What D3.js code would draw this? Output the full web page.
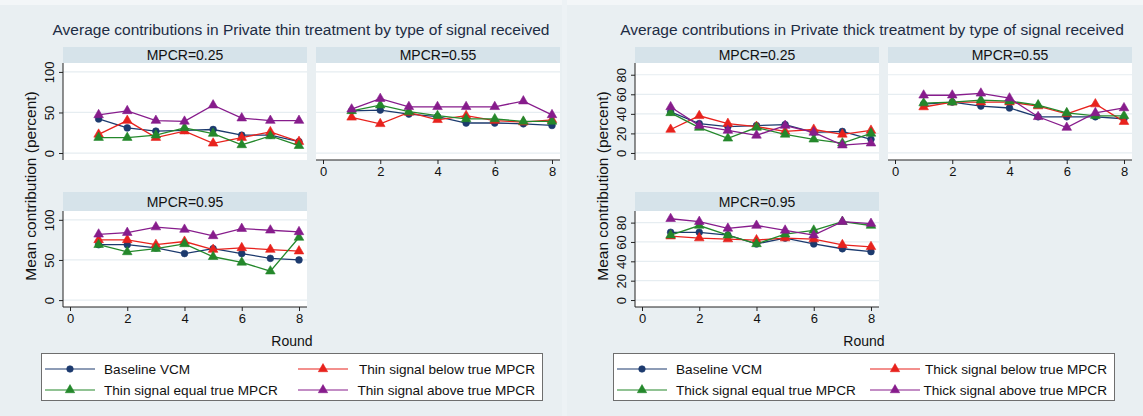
<!DOCTYPE html>
<html>
<head>
<meta charset="utf-8">
<script src="https://cdn.jsdelivr.net/npm/d3@7"></script>
<style>
  body { margin: 0; background: #e9eff2; }
  svg { display: block; font-family: "Liberation Sans", Arial, Helvetica, sans-serif; }
</style>
</head>
<body>
<div id="chart"></div>
<script>
var svgWidth = 1143;
var svgHeight = 416;

// rounds on the x axis
var rounds = [1, 2, 3, 4, 5, 6, 7, 8];
var xTicks = [0, 2, 4, 6, 8];
var panelLabels = ["MPCR=0.25", "MPCR=0.55", "MPCR=0.95"];

// series order: baseline, below, equal, above
var thin25 = [
  [42, 31, 27, 28, 29, 22, 22, 14],
  [23, 40, 19, 27, 12, 19, 26, 14],
  [19, 19, 22, 31, 24, 10, 21, 9],
  [47, 52, 40, 39, 59, 43, 40, 40]
];
var thin55 = [
  [52, 53, 48, 45, 37, 37, 36, 34],
  [44, 36, 50, 41, 46, 40, 38, 41],
  [52, 59, 51, 46, 42, 42, 39, 39],
  [54, 67, 57, 57, 57, 57, 64, 47]
];
var thin95 = [
  [69, 69, 65, 58, 64, 58, 52, 50],
  [75, 75, 69, 73, 63, 65, 63, 61],
  [69, 60, 64, 70, 54, 47, 36, 78],
  [82, 84, 91, 88, 80, 89, 87, 85]
];
var thick25 = [
  [42, 30, 27, 28, 29, 21, 22, 14],
  [24, 38, 30, 27, 22, 24, 19, 23],
  [41, 26, 15, 26, 19, 14, 10, 20],
  [47, 28, 23, 18, 28, 21, 8, 10]
];
var thick55 = [
  [50, 52, 48, 46, 37, 37, 37, 35],
  [47, 52, 52, 52, 48, 40, 50, 32],
  [51, 52, 54, 53, 49, 41, 38, 38],
  [59, 59, 61, 56, 37, 26, 41, 46]
];
var thick95 = [
  [70, 70, 67, 58, 64, 58, 53, 50],
  [66, 64, 63, 62, 64, 63, 57, 55],
  [67, 77, 67, 58, 68, 72, 81, 77],
  [84, 81, 74, 77, 72, 67, 81, 79]
];

var thinTicks = [0, 50, 100];
var thickTicks = [0, 20, 40, 60, 80];

var thinLegend = ["Baseline VCM", "Thin signal below true MPCR", "Thin signal equal true MPCR", "Thin signal above true MPCR"];
var thickLegend = ["Baseline VCM", "Thick signal below true MPCR", "Thick signal equal true MPCR", "Thick signal above true MPCR"];

var colors = ["#1c3a6e", "#e8221d", "#24882b", "#871c8c"];
var shapes = [d3.symbolCircle, d3.symbolTriangle, d3.symbolTriangle, d3.symbolTriangle];

var svg = d3.select("#chart")
  .append("svg")
  .attr("width", svgWidth)
  .attr("height", svgHeight);

svg.append("rect").attr("width", svgWidth).attr("height", svgHeight).attr("fill", "#e9eff2");
svg.append("rect").attr("width", svgWidth).attr("height", 5).attr("fill", "#f3f6f8");
svg.append("rect").attr("x", 562).attr("width", 5).attr("height", svgHeight).attr("fill", "#edf2f5");

function marker(g, shape, color, size) {
  return g.append("path")
    .attr("d", d3.symbol().type(shape).size(size)())
    .attr("fill", color)
    .attr("stroke", color)
    .attr("stroke-width", 0.6);
}

function drawChart(ox, title, titleX, data, yDomain, yTicks, legendLabels) {
  var chart = svg.append("g").attr("transform", `translate(${ox}, 0)`);

  chart.append("text")
    .attr("x", titleX).attr("y", 35)
    .attr("text-anchor", "middle")
    .attr("font-size", 15.5)
    .attr("fill", "#1d2c44")
    .text(title);

  var panels = [
    {x: 63, stripTop: 47, plotTop: 63, plotBottom: 160, showX: false, showY: true},
    {x: 316, stripTop: 47, plotTop: 63, plotBottom: 160, showX: true, showY: false},
    {x: 63, stripTop: 192, plotTop: 211, plotBottom: 307, showX: true, showY: true}
  ];
  var pw = 244;

  panels.forEach(function(p, i) {
    var g = chart.append("g");

    g.append("rect")
      .attr("x", p.x).attr("y", p.stripTop)
      .attr("width", pw).attr("height", p.plotTop - p.stripTop)
      .attr("fill", "#d6e3ea");
    g.append("text")
      .attr("x", p.x + pw / 2).attr("y", (p.stripTop + p.plotTop) / 2 + 5)
      .attr("text-anchor", "middle")
      .attr("font-size", 14)
      .attr("fill", "#111")
      .text(panelLabels[i]);

    g.append("rect")
      .attr("x", p.x).attr("y", p.plotTop)
      .attr("width", pw).attr("height", p.plotBottom - p.plotTop)
      .attr("fill", "#ffffff");

    var x = d3.scaleLinear().domain([-0.245, 8.28]).range([p.x, p.x + pw]);
    var y = d3.scaleLinear().domain(yDomain).range([p.plotBottom, p.plotTop]);

    // gridlines
    g.selectAll(".grid").data(yTicks).enter()
      .append("line")
      .attr("x1", p.x).attr("x2", p.x + pw)
      .attr("y1", d => y(d)).attr("y2", d => y(d))
      .attr("stroke", "#e6edf1")
      .attr("stroke-width", 1.2);

    if (p.showY) {
      var leftAxis = d3.axisLeft(y).tickValues(yTicks).tickSize(4).tickPadding(3);
      var ya = g.append("g")
        .attr("transform", `translate(${p.x}, 0)`)
        .call(leftAxis);
      ya.select(".domain").attr("stroke", "#222").attr("d", `M0,${p.plotTop}V${p.plotBottom}`);
      ya.selectAll(".tick line").attr("stroke", "#222");
      ya.selectAll(".tick text")
        .attr("font-size", 13)
        .attr("font-family", "Liberation Sans, Arial, sans-serif")
        .attr("fill", "#111")
        .attr("text-anchor", "middle")
        .attr("dominant-baseline", "central")
        .attr("dy", null)
        .attr("x", null)
        .attr("transform", "translate(-14, 0) rotate(-90)");
    }

    if (p.showX) {
      var bottomAxis = d3.axisBottom(x).tickValues(xTicks).tickSize(4).tickPadding(3);
      var xa = g.append("g")
        .attr("transform", `translate(0, ${p.plotBottom})`)
        .call(bottomAxis);
      xa.select(".domain").attr("d", `M${p.x},0H${p.x + pw}`).attr("stroke", "#222");
      xa.selectAll(".tick line").attr("stroke", "#222");
      xa.selectAll(".tick text")
        .attr("font-size", 13)
        .attr("font-family", "Liberation Sans, Arial, sans-serif")
        .attr("fill", "#111");
    }

    var line = d3.line()
      .x((d, j) => x(rounds[j]))
      .y(d => y(d));

    data[i].forEach(function(series, s) {
      g.append("path")
        .attr("d", line(series))
        .attr("fill", "none")
        .attr("stroke", colors[s])
        .attr("stroke-width", 1.3);
      series.forEach(function(v, j) {
        marker(g, shapes[s], colors[s], s === 0 ? 36 : 40)
          .attr("transform", `translate(${x(rounds[j])}, ${y(v)})`);
      });
    });
  });

  // axis titles
  chart.append("text")
    .attr("transform", "translate(36, 186) rotate(-90)")
    .attr("text-anchor", "middle")
    .attr("font-size", 15.5)
    .attr("fill", "#111")
    .text("Mean contribution (percent)");

  chart.append("text")
    .attr("x", 292).attr("y", 346)
    .attr("text-anchor", "middle")
    .attr("font-size", 14)
    .attr("fill", "#111")
    .text("Round");

  // legend
  var lg = chart.append("g");
  lg.append("rect")
    .attr("x", 41.5).attr("y", 353.5)
    .attr("width", 501).attr("height", 47)
    .attr("fill", "#ffffff")
    .attr("stroke", "#6e6e6e")
    .attr("stroke-width", 1);

  var keys = [
    {s: 0, lx: 45, mx: 70, tx: 104, anchor: "start", y: 369},
    {s: 1, lx: 298, mx: 323, tx: 535, anchor: "end", y: 369},
    {s: 2, lx: 45, mx: 70, tx: 104, anchor: "start", y: 390},
    {s: 3, lx: 298, mx: 323, tx: 535, anchor: "end", y: 390}
  ];
  keys.forEach(function(k) {
    lg.append("line")
      .attr("x1", k.lx).attr("x2", k.lx + 50)
      .attr("y1", k.y).attr("y2", k.y)
      .attr("stroke", colors[k.s])
      .attr("stroke-width", 1.1);
    marker(lg, shapes[k.s], colors[k.s], k.s === 0 ? 34 : 38)
      .attr("transform", `translate(${k.mx}, ${k.y})`);
    lg.append("text")
      .attr("x", k.tx).attr("y", k.y + 5)
      .attr("text-anchor", k.anchor)
      .attr("font-size", 13.6)
      .attr("fill", "#111")
      .text(legendLabels[k.s]);
  });
}

drawChart(0, "Average contributions in Private thin treatment by type of signal received", 301,
  [thin25, thin55, thin95], [-8.6, 111], thinTicks, thinLegend);
drawChart(572, "Average contributions in Private thick treatment by type of signal received", 300,
  [thick25, thick55, thick95], [-7.2, 92], thickTicks, thickLegend);
</script>
</body>
</html>
